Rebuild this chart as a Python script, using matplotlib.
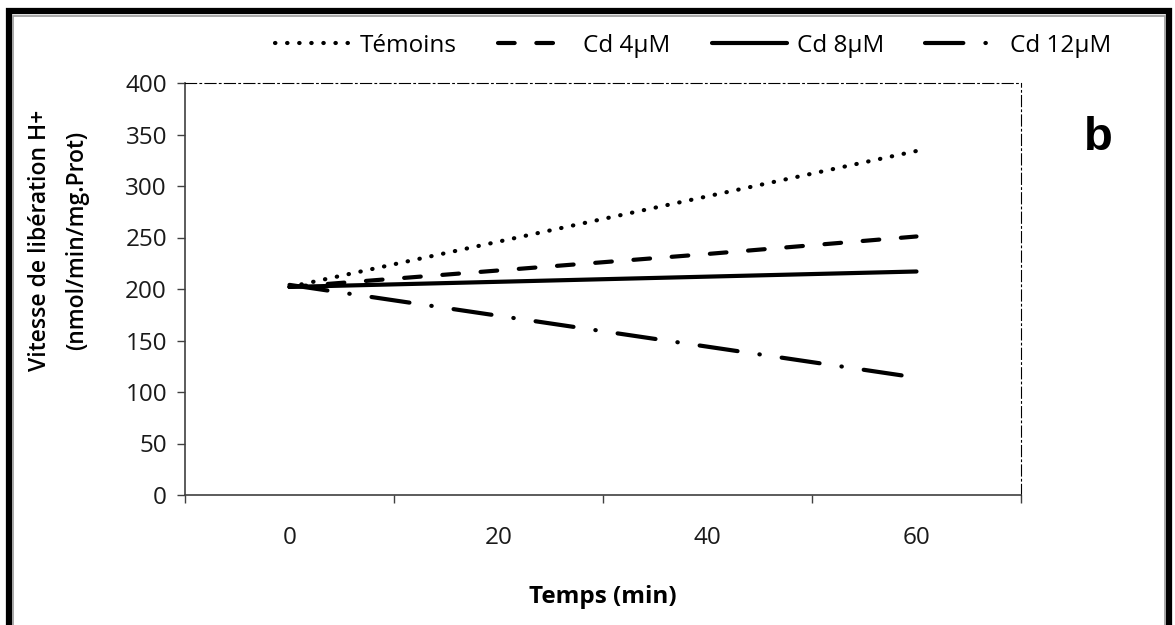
import numpy as np
import matplotlib.pyplot as plt
from matplotlib.patches import Rectangle

plt.rcParams['font.family'] = ['Open Sans', 'DejaVu Sans']

# data
temps = ['0', '20', '40', '60']
temoins = [202, 246, 290, 334]
cd4 = [202, 218, 234, 251]
cd8 = [202, 207, 212, 217]
cd12 = [204, 174, 144, 114]

fs = 17.5

fig = plt.figure(figsize=(11.75, 6.25), dpi=100)
ax = fig.add_axes([185/1175, 1-495/625, 836/1175, 412/625])

x = np.arange(len(temps))
lw = 3
ax.plot(x, temoins, color='black', lw=lw, linestyle=(0, (0.1, 2.8)),
        dash_capstyle='round', label='Témoins')
ax.plot(x, cd4, color='black', lw=lw, linestyle=(0, (4, 5.2)),
        dash_capstyle='round', label='Cd 4µM')
ax.plot(x, cd8, color='black', lw=lw, solid_capstyle='round', label='Cd 8µM')
ax.plot(x, cd12, color='black', lw=lw, linestyle=(0, (9.2, 5.3, 0.1, 5.3)),
        dash_capstyle='round', label='Cd 12µM')

ax.set_xlim(-0.5, 3.5)
ax.set_ylim(0, 400)
ax.set_yticks(np.arange(0, 401, 50))
ax.set_xticks(np.arange(-0.5, 3.6, 1))
ax.set_xticklabels([])
ax.set_xticks(x, minor=True)
ax.set_xticklabels(temps, minor=True)
ax.tick_params(axis='x', which='major', direction='out', length=6, width=1, color='#404040')
ax.tick_params(axis='x', which='minor', length=0, pad=22, labelsize=fs, labelcolor='#1a1a1a')
ax.tick_params(axis='y', direction='out', length=6, width=1, color='#404040',
               labelsize=fs, labelcolor='#1a1a1a', pad=7)

for s in ['left', 'bottom']:
    ax.spines[s].set_color('#404040')
    ax.spines[s].set_linewidth(1.2)
for s in ['top', 'right']:
    ax.spines[s].set_color('black')
    ax.spines[s].set_linewidth(0.8)
    ax.spines[s].set_linestyle((0, (10, 3, 1.5, 3)))

fig.text(603/1175, 1-597/625, 'Temps (min)', ha='center', va='center',
         fontsize=fs, fontweight='bold')
fig.text(40/1175, 1-240/625, 'Vitesse de libération H+', rotation=90,
         ha='center', va='center', fontsize=16.5, fontweight='semibold')
fig.text(77/1175, 1-240/625, '(nmol/min/mg.Prot)', rotation=90,
         ha='center', va='center', fontsize=16.5, fontweight='semibold')
fig.text(1098/1175, 1-138/625, 'b', ha='center', va='center',
         fontsize=34, fontweight='bold', family='Liberation Sans')

fig.legend(loc='center', bbox_to_anchor=(693/1175, 1-46/625), ncol=4,
           frameon=False, fontsize=fs, handlelength=3.1, handletextpad=0.4,
           columnspacing=1.7)

# outer frame
fig.add_artist(Rectangle((9/1175, -0.05), 1160/1175, 1.05-11/625,
                         transform=fig.transFigure, fill=False,
                         edgecolor='black', lw=4.5))
fig.add_artist(Rectangle((13/1175, -0.05), 1152/1175, 1.05-16/625,
                         transform=fig.transFigure, fill=False,
                         edgecolor='#9a9a9a', lw=1.2))

fig.savefig('out.png', dpi=100)
